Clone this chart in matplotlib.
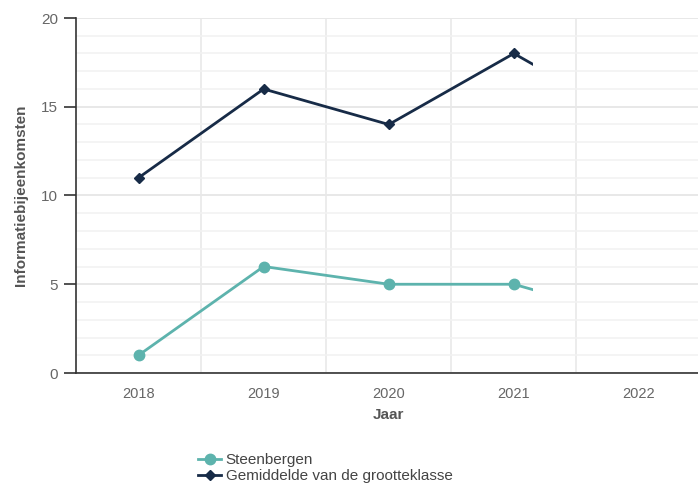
import matplotlib

matplotlib.use("Agg")
import matplotlib.pyplot as plt
from matplotlib.patches import Rectangle
from matplotlib.ticker import MultipleLocator

plt.rcParams["font.family"] = ["Liberation Sans", "DejaVu Sans"]

years = [2018, 2019, 2020, 2021, 2022]
steenbergen = [1, 6, 5, 5, 3]
gemiddelde = [11, 16, 14, 18, 14]
series_names = ["Steenbergen", "Gemiddelde van de grootteklasse"]

_TEAL = "#5db3ad"
_NAVY = "#172b47"
_GRID = "#e8e8e8"
_TEXT = "#666666"

W, H = 698, 486
fig = plt.figure(figsize=(W / 100, H / 100), dpi=100)
ax = fig.add_axes([76 / W, (H - 373) / H, (701.5 - 76) / W, (373 - 18) / H])

ax.set_xlim(2017.5, 2022.5)
ax.set_ylim(0, 20)

# partial reveal of the lines (animation snapshot)
clip = Rectangle((2017.5, -1), 2021.15 - 2017.5, 22, transform=ax.transData)

l1, = ax.plot(years, steenbergen, color=_TEAL, lw=2, marker="o", ms=7.5,
              label=series_names[0], zorder=4)
l2, = ax.plot(years, gemiddelde, color=_NAVY, lw=2, marker="D", ms=5.5,
              label=series_names[1], zorder=4)
for ln in (l1, l2):
    ln.set_clip_path(clip)

ax.yaxis.set_major_locator(MultipleLocator(5))
ax.yaxis.set_minor_locator(MultipleLocator(1))
ax.grid(True, axis="y", which="major", color=_GRID, lw=1.4)
ax.grid(True, axis="y", which="minor", color="#f2f2f2", lw=1.2)
for xb in [2018.5, 2019.5, 2020.5, 2021.5]:
    ax.axvline(xb, color="#ebebeb", lw=1.3, zorder=0)
ax.set_axisbelow(True)

ax.set_xticks(years)
ax.set_xticklabels([str(y) for y in years])
ax.tick_params(axis="x", length=0, pad=10, labelsize=10.5, labelcolor=_TEXT)
ax.tick_params(axis="y", which="major", length=9, width=1.2, color="#333333",
               pad=4, labelsize=11, labelcolor=_TEXT)
ax.tick_params(axis="y", which="minor", length=0)

for side in ["top", "right"]:
    ax.spines[side].set_visible(False)
ax.spines["left"].set_color("#333333")
ax.spines["bottom"].set_color("#333333")
ax.spines["left"].set_linewidth(1.2)
ax.spines["bottom"].set_linewidth(1.2)

ax.set_xlabel("Jaar", fontsize=11, fontweight="bold", color="#555555", labelpad=5)
ax.set_ylabel("Informatiebijeenkomsten", fontsize=11, fontweight="bold",
              color="#555555", labelpad=9)

fig.legend(handles=[l1, l2], loc="upper left", bbox_to_anchor=(192 / W, 1 - 447 / H),
           frameon=False, fontsize=11, handlelength=1.5, handletextpad=0.3,
           labelspacing=0.15, borderaxespad=0, labelcolor="#444444")

fig.savefig("out.png", dpi=100)
